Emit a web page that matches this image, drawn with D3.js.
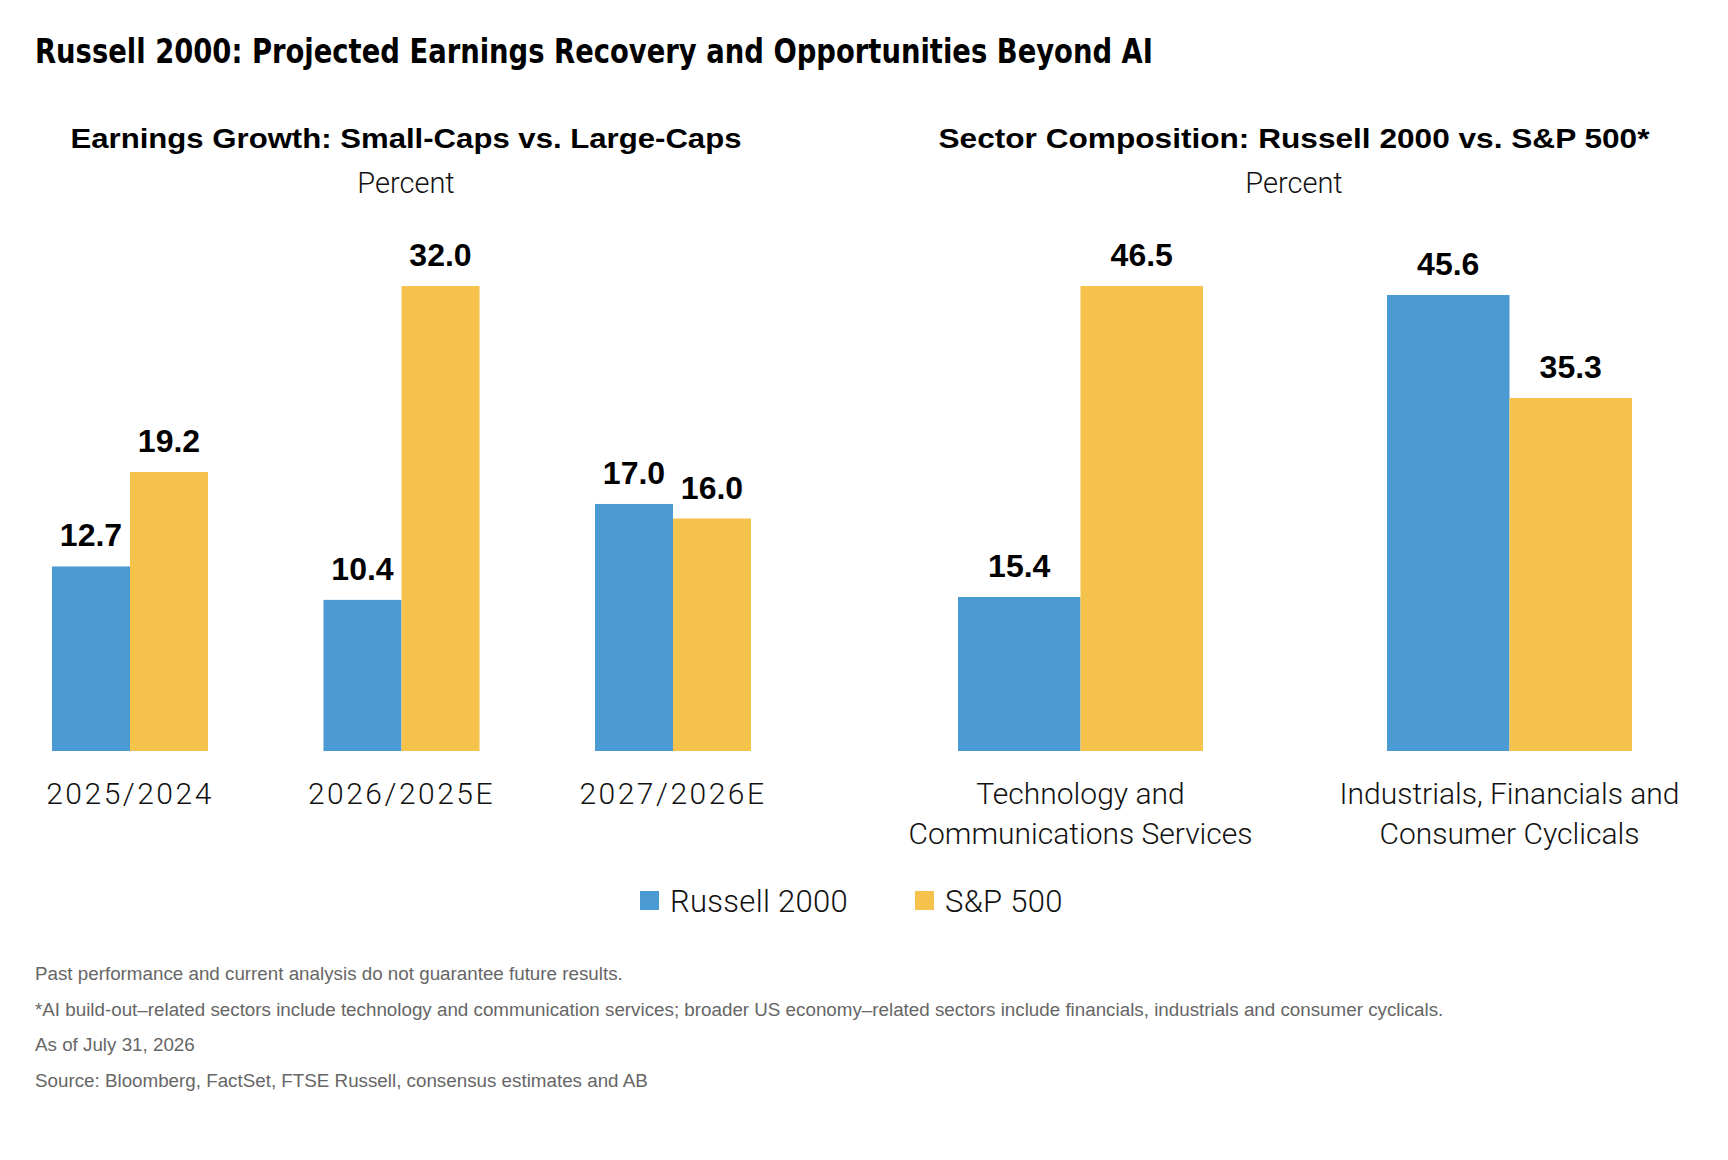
<!DOCTYPE html>
<html>
<head>
<meta charset="utf-8">
<script src="https://cdn.jsdelivr.net/npm/d3@7"></script>
<style>
	body { margin: 0; background: #fff; }
	svg { display: block; }
	.light { font-family: Roboto, "Liberation Sans", Arial, sans-serif; font-weight: 300; fill: #111; }
	.bold { font-family: "Liberation Sans", Arial, sans-serif; font-weight: 700; fill: #000; }
</style>
</head>
<body>
<div id="chart"></div>
<script>
var chartTitle = "Russell 2000: Projected Earnings Recovery and Opportunities Beyond AI";

var seriesNames = ["Russell 2000", "S&P 500"];
var colorArray = ["#4b9ad4", "#f5c24c"];

// left panel
var growthTitle = "Earnings Growth: Small-Caps vs. Large-Caps";
var growthPeriods = ["2025/2024", "2026/2025E", "2027/2026E"];
var growthRussell = [12.7, 10.4, 17.0];
var growthSP = [19.2, 32.0, 16.0];

// right panel
var sectorTitle = "Sector Composition: Russell 2000 vs. S&P 500*";
var sectorNames = ["Technology and Communications Services", "Industrials, Financials and Consumer Cyclicals"];
var sectorLines = [
	["Technology and", "Communications Services"],
	["Industrials, Financials and", "Consumer Cyclicals"],
];
var sectorRussell = [15.4, 45.6];
var sectorSP = [46.5, 35.3];

var unitLabel = "Percent";

var footnotes = [
	"Past performance and current analysis do not guarantee future results.",
	"*AI build-out\u2013related sectors include technology and communication services; broader US economy\u2013related sectors include financials, industrials and consumer cyclicals.",
	"As of July 31, 2026",
	"Source: Bloomberg, FactSet, FTSE Russell, consensus estimates and AB",
];

var width = 1728;
var height = 1160;
var plotTop = 286;
var plotBottom = 751;

var svg = d3
	.select("#chart")
	.append("svg")
	.attr("width", width)
	.attr("height", height);

svg.append("text")
	.attr("class", "bold")
	.attr("x", 35)
	.attr("y", 63)
	.style("font-family", '"Liberation Sans Narrow", "DejaVu Sans Condensed", "Liberation Sans", sans-serif')
	.style("font-size", "33px")
	.attr("textLength", 1118)
	.attr("lengthAdjust", "spacingAndGlyphs")
	.text(chartTitle);

function drawPanel(opts) {
	var yScale = d3
		.scaleLinear()
		.domain([0, d3.max(opts.russell.concat(opts.sp))])
		.range([plotBottom, plotTop]);

	var xScale = d3.scalePoint().domain(opts.groups).range(opts.range);
	var x1 = d3
		.scaleBand()
		.domain(seriesNames)
		.range([-opts.barWidth, opts.barWidth]);

	var g = svg.append("g").attr("class", "panel");

	g.append("text")
		.attr("class", "bold")
		.attr("x", opts.center)
		.attr("y", 148)
		.style("text-anchor", "middle")
		.style("font-size", "28px")
		.attr("textLength", opts.titleWidth)
		.attr("lengthAdjust", "spacingAndGlyphs")
		.text(opts.title);

	g.append("text")
		.attr("class", "light")
		.attr("x", opts.center)
		.attr("y", 193)
		.style("text-anchor", "middle")
		.style("font-size", "29px")
		.text(unitLabel);

	var rows = opts.groups.map(function (d, i) {
		return [
			{ group: d, series: seriesNames[0], value: opts.russell[i], color: colorArray[0] },
			{ group: d, series: seriesNames[1], value: opts.sp[i], color: colorArray[1] },
		];
	});
	var bars = d3.merge(rows);

	g.selectAll("rect.bar")
		.data(bars)
		.enter()
		.append("rect")
		.attr("class", "bar")
		.attr("x", (d) => xScale(d.group) + x1(d.series))
		.attr("y", (d) => yScale(d.value))
		.attr("width", x1.bandwidth())
		.attr("height", (d) => yScale(0) - yScale(d.value))
		.style("fill", (d) => d.color);

	g.selectAll("text.value")
		.data(bars)
		.enter()
		.append("text")
		.attr("class", "value bold")
		.attr("x", (d) => xScale(d.group) + x1(d.series) + x1.bandwidth() / 2)
		.attr("y", (d) => yScale(d.value) - 20)
		.style("text-anchor", "middle")
		.style("font-size", "32px")
		.text((d) => d3.format(".1f")(d.value));

	var labels = g
		.selectAll("text.category")
		.data(opts.groups)
		.enter()
		.append("text")
		.attr("class", "category light")
		.attr("x", (d) => xScale(d))
		.attr("y", 804)
		.style("text-anchor", "middle")
		.style("font-size", "30px")
		.style("letter-spacing", opts.spacing + "px");

	labels
		.selectAll("tspan")
		.data((d, i) => opts.lines[i])
		.enter()
		.append("tspan")
		.attr("x", function () {
			return d3.select(this.parentNode).attr("x");
		})
		.attr("dy", (d, j) => (j === 0 ? 0 : 40))
		.text((d) => d);
}

drawPanel({
	title: growthTitle,
	titleWidth: 671,
	center: 406,
	groups: growthPeriods,
	lines: growthPeriods.map((d) => [d]),
	russell: growthRussell,
	sp: growthSP,
	range: [130, 673],
	barWidth: 78,
	spacing: 2.5,
});

drawPanel({
	title: sectorTitle,
	titleWidth: 711,
	center: 1294,
	groups: sectorNames,
	lines: sectorLines,
	russell: sectorRussell,
	sp: sectorSP,
	range: [1080.5, 1509.5],
	barWidth: 122.5,
	spacing: 0,
});

// legend
var legendX = d3.scalePoint().domain(seriesNames).range([640, 915]);
var items = svg
	.append("g")
	.attr("class", "legend")
	.selectAll("g.item")
	.data(seriesNames)
	.enter()
	.append("g")
	.attr("class", "item")
	.attr("transform", (d) => "translate(" + legendX(d) + ",912)");

items.append("rect")
	.attr("x", 0)
	.attr("y", -21)
	.attr("width", 19)
	.attr("height", 19)
	.style("fill", (d, i) => colorArray[i]);

items.append("text")
	.attr("class", "light")
	.attr("x", 30)
	.attr("y", 0)
	.style("font-size", "31px")
	.style("letter-spacing", "0.3px")
	.text((d) => d);

svg.append("g")
	.attr("class", "footnotes")
	.selectAll("text")
	.data(footnotes)
	.enter()
	.append("text")
	.attr("x", 35)
	.attr("y", (d, i) => 980 + i * 35.7)
	.style("font-family", '"Liberation Sans", Arial, sans-serif')
	.style("font-size", "18.8px")
	.style("fill", "#666")
	.text((d) => d);
</script>
</body>
</html>
